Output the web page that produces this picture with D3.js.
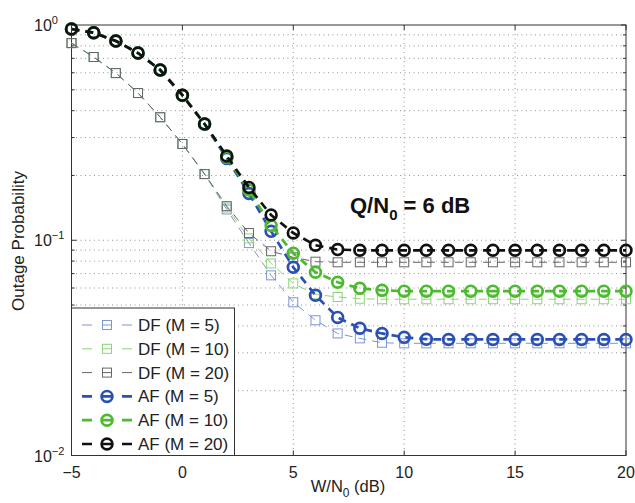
<!DOCTYPE html>
<html>
<head>
<meta charset="utf-8">
<script src="https://cdn.jsdelivr.net/npm/d3@7"></script>
<style>
  body { margin: 0; background: #fff; }
  svg text { font-family: "Liberation Sans", Arial, sans-serif; }
</style>
</head>
<body>
<svg id="chart" width="635" height="503"></svg>
<script>
// data, x = -5..20 dB in steps of 1
var snr = d3.range(-5, 21)

var dfM5  = [0.824, 0.710, 0.598, 0.483, 0.373, 0.280, 0.203, 0.139, 0.097, 0.0687, 0.0515, 0.0425, 0.0369, 0.035, 0.0334, 0.0332, 0.0332, 0.0332, 0.0332, 0.0332, 0.0332, 0.0332, 0.0332, 0.0332, 0.0332, 0.0332]
var dfM10 = [0.824, 0.710, 0.598, 0.483, 0.373, 0.280, 0.203, 0.142, 0.102, 0.078, 0.063, 0.056, 0.0545, 0.0535, 0.0532, 0.0532, 0.0532, 0.0532, 0.0532, 0.0532, 0.0532, 0.0532, 0.0532, 0.0532, 0.0532, 0.0532]
var dfM20 = [0.824, 0.710, 0.598, 0.483, 0.373, 0.280, 0.203, 0.144, 0.108, 0.0889, 0.0833, 0.0795, 0.079, 0.079, 0.079, 0.079, 0.079, 0.079, 0.079, 0.079, 0.079, 0.079, 0.079, 0.079, 0.079, 0.079]
var afM5  = [0.958, 0.921, 0.843, 0.741, 0.618, 0.472, 0.347, 0.240, 0.165, 0.110, 0.0749, 0.0555, 0.0438, 0.039, 0.0369, 0.0354, 0.0347, 0.0346, 0.0346, 0.0346, 0.0346, 0.0346, 0.0346, 0.0346, 0.0346, 0.0346]
var afM10 = [0.958, 0.921, 0.843, 0.741, 0.618, 0.472, 0.347, 0.243, 0.171, 0.117, 0.087, 0.071, 0.0638, 0.0598, 0.0585, 0.058, 0.058, 0.058, 0.058, 0.058, 0.058, 0.058, 0.058, 0.058, 0.058, 0.058]
var afM20 = [0.958, 0.921, 0.843, 0.741, 0.618, 0.472, 0.347, 0.246, 0.176, 0.131, 0.108, 0.0948, 0.0905, 0.0898, 0.0898, 0.0898, 0.0898, 0.0898, 0.0898, 0.0898, 0.0898, 0.0898, 0.0898, 0.0898, 0.0898, 0.0898]

var seriesNames = ['DF (M = 5)', 'DF (M = 10)', 'DF (M = 20)', 'AF (M = 5)', 'AF (M = 10)', 'AF (M = 20)']
var seriesData  = [dfM5, dfM10, dfM20, afM5, afM10, afM20]
var seriesColor = ['#7d95d6', '#8ed27a', '#666666', '#2b50b4', '#4cba2e', '#111111']

var xTicks = [-5, 0, 5, 10, 15, 20]
var yTicks = [1, 0.1, 0.01]
var yExp   = ['0', '\u22121', '\u22122']

var svg = d3.select('#chart')
var pLeft = 71.5, pRight = 626, pTop = 25, pBottom = 455.5

var x = d3.scaleLinear().domain([-5, 20]).range([pLeft, pRight])
var y = d3.scaleLog().domain([0.01, 1]).range([pBottom, pTop])

// minor log values for grid
var minor = []
;[0.01, 0.1].forEach(function (d) {
  for (var k = 2; k <= 9; k++) minor.push(d * k)
})

var grid = svg.append('g').attr('stroke', '#777').attr('stroke-width', 0.8).attr('stroke-dasharray', '1,3.5')
grid.selectAll('.vg').data(xTicks.slice(1, -1)).enter().append('line')
  .attr('x1', function (d) { return x(d) }).attr('x2', function (d) { return x(d) })
  .attr('y1', pTop).attr('y2', pBottom)
grid.selectAll('.hg').data(minor.concat([0.1])).enter().append('line')
  .attr('x1', pLeft).attr('x2', pRight)
  .attr('y1', function (d) { return y(d) }).attr('y2', function (d) { return y(d) })

// box
svg.append('rect').attr('x', pLeft).attr('y', pTop).attr('width', pRight - pLeft).attr('height', pBottom - pTop)
  .attr('fill', 'none').attr('stroke', '#333').attr('stroke-width', 1)

// ticks (inside, all four sides)
var ax = svg.append('g').attr('stroke', '#333').attr('stroke-width', 1)
xTicks.forEach(function (t) {
  ax.append('line').attr('x1', x(t)).attr('x2', x(t)).attr('y1', pBottom).attr('y2', pBottom - 5)
  ax.append('line').attr('x1', x(t)).attr('x2', x(t)).attr('y1', pTop).attr('y2', pTop + 5)
})
minor.concat(yTicks).forEach(function (t) {
  var len = yTicks.indexOf(t) > -1 ? 5 : 3
  ax.append('line').attr('x1', pLeft).attr('x2', pLeft + len).attr('y1', y(t)).attr('y2', y(t))
  ax.append('line').attr('x1', pRight).attr('x2', pRight - len).attr('y1', y(t)).attr('y2', y(t))
})

// tick labels
svg.selectAll('.xl').data(xTicks).enter().append('text')
  .attr('x', function (d) { return x(d) }).attr('y', 478)
  .attr('text-anchor', 'middle').attr('font-size', 16).attr('fill', '#222')
  .text(function (d) { return d < 0 ? '\u2212' + (-d) : d })

yTicks.forEach(function (t, i) {
  var tx = svg.append('text').attr('x', 34).attr('y', y(t) + 6)
    .attr('font-size', 16).attr('fill', '#222')
  tx.append('tspan').text('10')
  tx.append('tspan').attr('font-size', 11).attr('dy', -7).text(yExp[i])
})

// axis titles
var xt = svg.append('text').attr('x', 348).attr('y', 492).attr('text-anchor', 'middle')
  .attr('font-size', 16.5).attr('fill', '#222')
xt.append('tspan').text('W/N')
xt.append('tspan').attr('font-size', 12).attr('dy', 5).text('0')
xt.append('tspan').attr('dy', -5).text(' (dB)')

svg.append('text').attr('transform', 'translate(24,241) rotate(-90)')
  .attr('text-anchor', 'middle').attr('font-size', 17).attr('fill', '#222')
  .text('Outage Probability')

// annotation
var ann = svg.append('text').attr('x', 350).attr('y', 213).attr('font-size', 22)
  .attr('font-weight', 'bold').attr('fill', '#111')
ann.append('tspan').text('Q/N')
ann.append('tspan').attr('font-size', 15).attr('dy', 7).text('0')
ann.append('tspan').attr('dy', -7).text(' = 6 dB')

// series
var line = d3.line().x(function (d, i) { return x(snr[i]) }).y(function (d) { return y(d) })

function drawMarker (g, isAF, color, cx, cy) {
  if (isAF) {
    g.append('circle').attr('cx', cx).attr('cy', cy).attr('r', 5.4)
      .attr('fill', 'none').attr('stroke', color).attr('stroke-width', 2.7)
  } else {
    g.append('rect').attr('x', cx - 4.5).attr('y', cy - 4.5).attr('width', 9).attr('height', 9)
      .attr('fill', 'none').attr('stroke', color).attr('stroke-width', 1)
  }
}

seriesData.forEach(function (vals, s) {
  var isAF = s >= 3
  var g = svg.append('g')
  g.append('path').datum(vals).attr('d', line).attr('fill', 'none')
    .attr('stroke', seriesColor[s]).attr('stroke-width', isAF ? 2.7 : 1)
    .attr('stroke-dasharray', '8,6')
  vals.forEach(function (v, i) { drawMarker(g, isAF, seriesColor[s], x(snr[i]), y(v)) })
})

// legend
var lg = svg.append('g')
lg.append('rect').attr('x', pLeft).attr('y', 308).attr('width', 163).attr('height', pBottom - 308)
  .attr('fill', '#fff').attr('stroke', '#333').attr('stroke-width', 1)
seriesNames.forEach(function (name, s) {
  var isAF = s >= 3
  var ly = 325 + s * 23.8
  lg.append('line').attr('x1', 82).attr('x2', 132).attr('y1', ly).attr('y2', ly)
    .attr('stroke', seriesColor[s]).attr('stroke-width', isAF ? 2.7 : 1).attr('stroke-dasharray', '10,10')
  drawMarker(lg, isAF, seriesColor[s], 107, ly)
  lg.append('text').attr('x', 138).attr('y', ly + 6).attr('font-size', 17).attr('fill', '#222').text(name)
})
</script>
</body>
</html>
